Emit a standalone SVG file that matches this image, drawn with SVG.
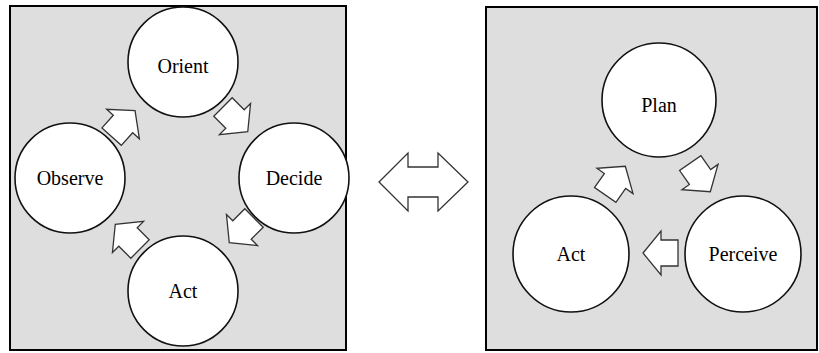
<svg xmlns="http://www.w3.org/2000/svg" width="819" height="353" viewBox="0 0 819 353">
<style>
.panel{fill:#dedede;stroke:#000;stroke-width:2}
.node circle{fill:#fff;stroke:#111;stroke-width:1.6}
.lbl{font-family:'Liberation Serif','DejaVu Serif','Noto Serif',serif;font-size:20px;fill:#000;text-anchor:middle}
.arr{fill:#fff;stroke:#333;stroke-width:1.3;stroke-linejoin:miter}
</style>
<defs>
<path id="blk" d="M-17,-13 H0 V-22 L18,0 L0,22 V13 H-17 Z"/>
</defs>
<rect class="panel" x="10" y="6" width="336" height="344"/>
<rect class="panel" x="486" y="7" width="331" height="343"/>
<g id="connectors">
<use href="#blk" class="arr" transform="translate(123,124) rotate(-48)"/>
<use href="#blk" class="arr" transform="translate(235,119) rotate(45)"/>
<use href="#blk" class="arr" transform="translate(242,230) rotate(135)"/>
<use href="#blk" class="arr" transform="translate(128,237) rotate(-135)"/>
<use href="#blk" class="arr" transform="translate(615,181) rotate(-55)"/>
<use href="#blk" class="arr" transform="translate(700,177) rotate(55)"/>
<use href="#blk" class="arr" transform="translate(661,253) rotate(180)"/>
<polygon class="arr" points="379,182 408,153 408,167 438,167 438,153 468,182 438,211 438,197 408,197 408,211"/>
</g>
<g id="orient" class="node"><circle cx="183" cy="62" r="55"/><text class="lbl" font-family="Liberation Serif, serif" x="183" y="73">Orient</text></g>
<g id="observe" class="node"><circle cx="70" cy="178" r="55"/><text class="lbl" font-family="Liberation Serif, serif" x="70" y="185">Observe</text></g>
<g id="decide" class="node"><circle cx="294" cy="178" r="55"/><text class="lbl" font-family="Liberation Serif, serif" x="294" y="185">Decide</text></g>
<g id="act-left" class="node"><circle cx="183" cy="291" r="55"/><text class="lbl" font-family="Liberation Serif, serif" x="183" y="298">Act</text></g>
<g id="plan" class="node"><circle cx="659" cy="100" r="57"/><text class="lbl" font-family="Liberation Serif, serif" x="659" y="112">Plan</text></g>
<g id="act-right" class="node"><circle cx="571" cy="254" r="58"/><text class="lbl" font-family="Liberation Serif, serif" x="571" y="261">Act</text></g>
<g id="perceive" class="node"><circle cx="743" cy="254" r="58"/><text class="lbl" font-family="Liberation Serif, serif" x="743" y="261">Perceive</text></g>
</svg>
